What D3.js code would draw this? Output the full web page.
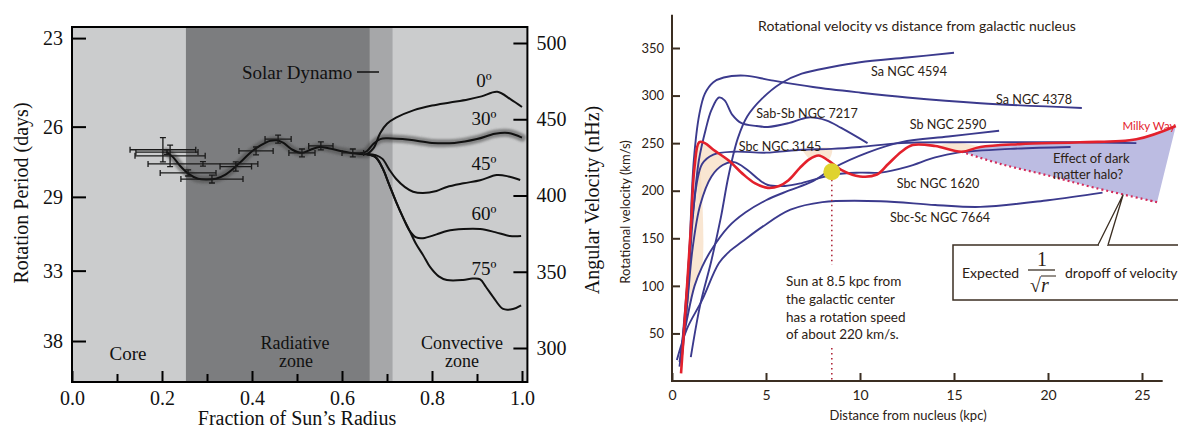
<!DOCTYPE html>
<html>
<head>
<meta charset="utf-8">
<script src="https://cdn.jsdelivr.net/npm/d3@7/dist/d3.min.js"></script>
<style>
  html, body { margin: 0; padding: 0; background: #fff; }
  svg { display: block; }
</style>
</head>
<body>
<svg id="fig" width="1178" height="430"></svg>
<script>
// ================= Solar interior rotation =================
const radiusTicks = [0, 0.2, 0.4, 0.6, 0.8, 1.0];
const radiusMinorTicks = [0.1, 0.3, 0.5, 0.7, 0.9];
const rateTicks = [300, 350, 400, 450, 500];          // nHz
const periodTicks = [23, 26, 29, 33, 38];             // days
const zoneEdges = [0, 0.253, 0.662, 0.713, 1.012];    // core | radiative | tachocline | convective

// mean rotation rate below the convection zone
const interiorRadius = [0.21, 0.225, 0.24, 0.26, 0.28, 0.30, 0.32, 0.34, 0.36, 0.38, 0.40, 0.42, 0.44, 0.455, 0.47, 0.49, 0.51, 0.53, 0.55, 0.57, 0.60, 0.63, 0.655];
const interiorRate   = [428.5, 425, 419.5, 414, 411, 410.5, 411, 413.5, 418, 423.5, 429, 433, 435.8, 436.2, 434.5, 430, 428, 430, 431.8, 431, 429, 427.5, 427];

// rotation rate in the convection zone at given latitudes
const latLabels = ["0º", "30º", "45º", "60º", "75º"];
const lat0Radius  = [0.655, 0.67, 0.685, 0.70, 0.72, 0.76, 0.80, 0.84, 0.88, 0.91, 0.945, 0.975, 1.0];
const lat0Rate    = [427, 431, 441, 447, 451, 456, 459, 461, 463, 465, 468, 463, 458];
const lat30Radius = [0.64, 0.655, 0.67, 0.685, 0.70, 0.75, 0.80, 0.85, 0.90, 0.94, 0.97, 1.0];
const lat30Rate   = [427.5, 429, 434, 437, 437.5, 436.5, 434.5, 434.5, 437, 440.5, 441, 438];
const lat45Radius = [0.655, 0.675, 0.69, 0.705, 0.72, 0.74, 0.758, 0.78, 0.81, 0.833, 0.87, 0.907, 0.944, 0.97, 0.996];
const lat45Rate   = [427, 426.5, 424, 417, 411, 405.5, 402.5, 401.6, 403, 405.6, 408, 410, 413.4, 412.5, 410.2];
const lat60Radius = [0.655, 0.675, 0.69, 0.705, 0.72, 0.735, 0.75, 0.765, 0.78, 0.81, 0.833, 0.87, 0.907, 0.94, 0.973, 0.998];
const lat60Rate   = [427, 425, 418, 407, 396, 386, 377, 372.5, 372, 374.5, 376.7, 378, 378, 376, 373.4, 373.4];
const lat75Radius = [0.655, 0.675, 0.69, 0.705, 0.72, 0.735, 0.75, 0.765, 0.78, 0.796, 0.815, 0.833, 0.869, 0.89, 0.907, 0.92, 0.936, 0.958, 0.98, 0.998];
const lat75Rate   = [427, 425, 418, 407, 396, 386, 377, 368, 361, 353, 347, 344.6, 344.6, 345.5, 345, 340, 333.4, 325.6, 325.6, 328];

// helioseismic inversion points with their uncertainties
const obsRadius    = [0.202, 0.211, 0.218, 0.291, 0.258, 0.311, 0.364, 0.409, 0.458, 0.511, 0.553, 0.624];
const obsRadiusErr = [0.073, 0.069, 0.078, 0.122, 0.062, 0.069, 0.035, 0.038, 0.029, 0.029, 0.027, 0.024];
const obsRate      = [430, 428.5, 426, 420.7, 414.8, 410.8, 419, 429.2, 437, 427.9, 432.5, 427.9];
const obsRateErr   = [8, 1.5, 7, 1.5, 2, 2.6, 3, 2.6, 2.6, 2.6, 2.6, 2.6];

// ================= Galaxy rotation curves =================
const distTicks = [0, 5, 10, 15, 20, 25];                    // kpc
const speedTicks = [50, 100, 150, 200, 250, 300, 350];       // km/s

const ngc4594Kpc   = [1.0, 1.5, 2.1, 2.6, 3.0, 3.5, 4.0, 4.8, 5.8, 6.9, 8.5, 10, 12.5, 15];
const ngc4594Speed = [25, 80, 127, 172, 215, 255, 278, 297, 313, 323, 330, 335, 340, 345];
const ngc4378Kpc   = [0.4, 0.7, 0.9, 1.16, 1.45, 1.75, 2.2, 2.75, 3.86, 5.29, 7.5, 10.05, 12.5, 16.4, 21.8];
const ngc4378Speed = [15, 70, 127, 232, 280, 302, 314, 319, 321, 316, 309, 303, 298, 292, 287];
const ngc7217Kpc   = [0.5, 0.8, 1.1, 1.43, 1.8, 2.1, 2.5, 2.8, 3.2, 3.7, 4.5, 5.1, 6.2, 7.25, 8.2, 9.0, 10.4];
const ngc7217Speed = [20, 80, 170, 232, 265, 285, 298, 295, 280, 271, 268, 267, 271, 277, 274, 266, 250];
const ngc3145Kpc   = [0.5, 0.8, 1.1, 1.6, 2.2, 3.3, 5.0, 6.9, 8.5, 10, 12.2, 15, 18, 21, 24.7];
const ngc3145Speed = [30, 100, 175, 228, 238, 241, 240, 243, 244, 246, 250, 251, 251, 251, 250];
const ngc2590Kpc   = [0.4, 0.8, 1.2, 1.6, 2.1, 3.0, 3.9, 5.0, 6.2, 7.5, 8.6, 10.4, 12.2, 14.7, 17.4];
const ngc2590Speed = [20, 65, 100, 120, 138, 162, 177, 190, 200, 210, 224, 240, 251, 257, 263];
const ngc1620Kpc   = [0.5, 0.8, 1.1, 1.5, 2.1, 2.7, 3.3, 4.0, 4.6, 5.1, 6.0, 6.9, 8.6, 10, 11.1, 12.5, 14, 15.2, 18, 21.2];
const ngc1620Speed = [30, 80, 140, 185, 215, 227, 230, 222, 212, 206, 205, 208, 217, 219, 219, 225, 235, 240, 244, 246];
const ngc7664Kpc   = [0.26, 0.8, 1.6, 2.5, 3.1, 3.7, 4.8, 6.3, 8, 11.1, 14, 16.4, 20, 22.9];
const ngc7664Speed = [22, 55, 85, 124, 137, 146, 162, 180, 188, 189, 185, 183, 190, 198];
const milkyWayKpc   = [0.48, 0.75, 1.0, 1.2, 1.45, 1.75, 2.2, 3.0, 3.8, 4.4, 5.1, 5.7, 6.2, 6.8, 7.3, 7.8, 8.3, 9.0, 10.0, 10.9, 11.5, 12.2, 12.8, 14.0, 15.4, 16.4, 18.5, 21.7, 24.7, 26.8];
const milkyWaySpeed = [8, 85, 160, 225, 251, 250, 243, 232, 217, 208, 203, 205, 211, 224, 233, 237, 232, 222, 215, 217, 228, 241, 248, 247, 241, 246, 249, 251, 254, 268];

// expected Keplerian fall-off beyond the visible disk
const dropoffKpc   = [15.4, 17.5, 20, 22.5, 25.8];
const dropoffSpeed = [241, 228, 216, 203, 188];

const sunKpc = 8.5, sunSpeed = 220;

// =========================================================
const svg = d3.select("#fig");
const serif = "'Liberation Serif', 'Times New Roman', serif";
const sans = "Lato, 'Open Sans', sans-serif";
const zip = (a, b) => a.map((v, i) => [v, b[i]]);

const defs = svg.append("defs");
defs.append("filter").attr("id", "soft").attr("x", "-10%").attr("y", "-50%").attr("width", "120%").attr("height", "200%")
  .append("feGaussianBlur").attr("stdDeviation", 1.3);

// ---------- left panel ----------
const L = svg.append("g");
const rx = d3.scaleLinear().domain([0, 1]).range([72, 522]);
const ny = d3.scaleLinear().domain([300, 500]).range([348, 43]);
const frameTop = 27, frameBottom = 382;
const toNhz = p => 1e9 / (p * 86400);

const zoneFill = ["#cbcccd", "#7c7d7f", "#a6a7a9", "#cbcccd"];
L.selectAll("rect.zone").data(d3.pairs(zoneEdges)).join("rect")
  .attr("class", "zone")
  .attr("x", d => rx(d[0])).attr("width", d => rx(d[1]) - rx(d[0]))
  .attr("y", frameTop).attr("height", frameBottom - frameTop)
  .attr("fill", (d, i) => zoneFill[i]);

const sunLine = d3.line().x(d => rx(d[0])).y(d => ny(d[1])).curve(d3.curveCatmullRom.alpha(0.5));
const interior = zip(interiorRadius, interiorRate);
const lat30 = zip(lat30Radius, lat30Rate);

// uncertainty halo around the best-determined profile
L.append("g").attr("filter", "url(#soft)").selectAll("path").data([interior, lat30]).join("path")
  .attr("d", sunLine).attr("fill", "none").attr("stroke", "#4a4a4a").attr("stroke-opacity", 0.55)
  .attr("stroke-width", 8).attr("stroke-linecap", "round");

const latCurves = [zip(lat0Radius, lat0Rate), lat30, zip(lat45Radius, lat45Rate), zip(lat60Radius, lat60Rate), zip(lat75Radius, lat75Rate)];
L.selectAll("path.lat").data([interior, ...latCurves]).join("path")
  .attr("class", "lat").attr("d", sunLine).attr("fill", "none")
  .attr("stroke", "#111").attr("stroke-width", 2);

// error bars
const obs = obsRadius.map((r, i) => ({ r, re: obsRadiusErr[i], v: obsRate[i], ve: obsRateErr[i] }));
const eb = L.append("g").attr("stroke", "#1a1a1a").attr("stroke-width", 1.3).attr("fill", "none");
const cap = 3;
obs.forEach(o => {
  const x0 = rx(o.r - o.re), x1 = rx(o.r + o.re), xc = rx(o.r);
  const yc = ny(o.v), y0 = ny(o.v + o.ve), y1 = ny(o.v - o.ve);
  eb.append("path").attr("d",
    `M${x0},${yc}H${x1}M${x0},${yc - cap}V${yc + cap}M${x1},${yc - cap}V${yc + cap}` +
    `M${xc},${y0}V${y1}M${xc - cap},${y0}H${xc + cap}M${xc - cap},${y1}H${xc + cap}`);
});

// axes
const axStyle = g => {
  g.select(".domain").remove();
  g.selectAll(".tick line").attr("stroke", "#000").attr("stroke-width", 2);
  g.selectAll(".tick text").attr("fill", "#111").style("font-family", serif).style("font-size", "20px");
};
L.append("g").attr("transform", `translate(${rx(0)},0)`)
  .call(d3.axisLeft(ny).tickValues(periodTicks.map(toNhz)).tickFormat((d, i) => periodTicks[i]).tickSize(-14).tickPadding(9))
  .call(axStyle);
L.append("g").attr("transform", `translate(${rx(1.012)},0)`)
  .call(d3.axisRight(ny).tickValues(rateTicks).tickSize(-14).tickPadding(9))
  .call(axStyle);
L.append("g").attr("transform", `translate(0,${frameBottom})`)
  .call(d3.axisBottom(rx).tickValues(radiusTicks).tickFormat(d3.format(".1f")).tickSize(-11).tickPadding(9))
  .call(axStyle);
L.append("g").attr("transform", `translate(0,${frameBottom})`)
  .call(d3.axisBottom(rx).tickValues(radiusMinorTicks).tickFormat("").tickSize(-8))
  .call(axStyle);

L.append("rect").attr("x", rx(0)).attr("y", frameTop).attr("width", rx(1.012) - rx(0)).attr("height", frameBottom - frameTop)
  .attr("fill", "none").attr("stroke", "#000").attr("stroke-width", 2);

const ltext = (x, y, s, anchor = "middle", size = 19) =>
  L.append("text").attr("x", x).attr("y", y).attr("text-anchor", anchor)
    .style("font-family", serif).style("font-size", size + "px").attr("fill", "#111").text(s);

ltext(297, 425, "Fraction of Sun\u2019s Radius", "middle", 20);
L.append("text").attr("transform", "translate(28,193) rotate(-90)").attr("text-anchor", "middle")
  .style("font-family", serif).style("font-size", "20px").attr("fill", "#111").text("Rotation Period (days)");
L.append("text").attr("transform", "translate(599,200) rotate(-90)").attr("text-anchor", "middle")
  .style("font-family", serif).style("font-size", "20px").attr("fill", "#111").text("Angular Velocity (nHz)");

ltext(128, 360, "Core");
ltext(295, 349, "Radiative", "middle", 18);
ltext(296, 367, "zone", "middle", 18);
ltext(462, 349, "Convective", "middle", 18);
ltext(462, 367, "zone", "middle", 18);
ltext(242, 79, "Solar Dynamo", "start");
L.append("line").attr("x1", 357).attr("x2", 379).attr("y1", 72).attr("y2", 72).attr("stroke", "#111").attr("stroke-width", 1.5);

const latLabelY = [87, 125, 170, 220, 275];
latLabels.forEach((s, i) => ltext(484, latLabelY[i], s));

// ---------- right panel ----------
const R = svg.append("g");
const gx = d3.scaleLinear().domain([0, 25]).range([672, 1142]);
const gy = d3.scaleLinear().domain([0, 350]).range([381, 48]);
const ink = "#3b2e22";
const txt = "#2c2114";
const blue = "#3b3a8d";
const red = "#e3212c";

const galLine = d3.line().x(d => gx(d[0])).y(d => gy(d[1])).curve(d3.curveCatmullRom.alpha(0.5));
const poly = d3.line().x(d => gx(d[0])).y(d => gy(d[1]));

const milkyWay = zip(milkyWayKpc, milkyWaySpeed);
const dropoff = zip(dropoffKpc, dropoffSpeed);
const g3145 = zip(ngc3145Kpc, ngc3145Speed);
const g1620 = zip(ngc1620Kpc, ngc1620Speed);
const g7217 = zip(ngc7217Kpc, ngc7217Speed);
const g2590 = zip(ngc2590Kpc, ngc2590Speed);
const within = (pts, a, b) => pts.filter(d => d[0] >= a && d[0] <= b);

// region between the observed curve and the Keplerian expectation
const halo = [...within(milkyWay, 15.4, 30), ...dropoff.slice().reverse()];
R.append("path").attr("d", poly(halo) + "Z").attr("fill", "#bcbce2");

// light shading of the measurement spread
const peach = [
  [...within(g7217, 0.8, 1.43), ...within(g2590, 0.8, 1.6).reverse()],
  [...within(milkyWay, 1.2, 3.0), ...within(g1620, 1.5, 2.7).reverse()],
  [...within(milkyWay, 7.3, 8.3), ...within(g3145, 6.9, 8.5).reverse()],
  [...within(milkyWay, 14.0, 16.4), ...within(g3145, 15, 15).reverse()]
];
R.selectAll("path.peach").data(peach).join("path").attr("class", "peach")
  .attr("d", d => galLine(d) + "Z").attr("fill", "#f6dcbf").attr("opacity", 0.7);

const galaxies = [
  zip(ngc4594Kpc, ngc4594Speed), zip(ngc4378Kpc, ngc4378Speed), g7217, g3145, g2590, g1620, zip(ngc7664Kpc, ngc7664Speed)
];
R.selectAll("path.gal").data(galaxies).join("path").attr("class", "gal")
  .attr("d", galLine).attr("fill", "none").attr("stroke", blue).attr("stroke-width", 1.9);

R.append("path").attr("d", galLine(dropoff)).attr("fill", "none").attr("stroke", "#d42a5a")
  .attr("stroke-width", 2.2).attr("stroke-dasharray", "2,3");

R.append("path").attr("d", galLine(milkyWay)).attr("fill", "none").attr("stroke", red).attr("stroke-width", 2.6);

// Sun's position
const sunX = gx(sunKpc);
R.append("path").attr("d", `M${sunX},${gy(sunSpeed) + 8}V265M${sunX},348V${gy(0)}`)
  .attr("stroke", "#b02a3c").attr("stroke-width", 1.6).attr("stroke-dasharray", "1.5,3.5").attr("fill", "none");
R.append("circle").attr("cx", sunX).attr("cy", gy(sunSpeed)).attr("r", 8.5).attr("fill", "#dfd32e");

// axes
R.append("g").attr("transform", `translate(${gx(0)},0)`)
  .call(d3.axisLeft(gy).tickValues(speedTicks).tickSize(-8).tickPadding(8).tickSizeOuter(0))
  .call(g => {
    g.select(".domain").remove();
    g.selectAll(".tick line").attr("stroke", ink).attr("stroke-width", 2);
    g.selectAll(".tick text").attr("fill", txt).style("font-family", sans).style("font-size", "13px");
  });
R.append("g").attr("transform", `translate(0,${gy(0)})`)
  .call(d3.axisBottom(gx).tickValues(distTicks).tickSize(-8).tickPadding(9).tickSizeOuter(0))
  .call(g => {
    g.select(".domain").remove();
    g.selectAll(".tick line").attr("stroke", ink).attr("stroke-width", 2);
    g.selectAll(".tick text").attr("fill", txt).style("font-family", sans).style("font-size", "14px");
  });
R.append("path").attr("d", `M${gx(0)},${gy(385)}V${gy(0)}H${gx(26.1)}`)
  .attr("fill", "none").attr("stroke", ink).attr("stroke-width", 2);

const rtext = (x, y, s, anchor = "middle", size = 13, fill = txt) =>
  R.append("text").attr("x", x).attr("y", y).attr("text-anchor", anchor)
    .style("font-family", sans).style("font-size", size + "px").attr("fill", fill).text(s);

rtext(917, 31, "Rotational velocity vs distance from galactic nucleus", "middle", 14);
rtext(908, 420, "Distance from nucleus (kpc)", "middle", 13);
R.append("text").attr("transform", "translate(630,212) rotate(-90)").attr("text-anchor", "middle")
  .style("font-family", sans).style("font-size", "13px").attr("fill", txt).text("Rotational velocity (km/s)");

const galaxyLabels = [
  ["Sa NGC 4594", 909, 76], ["Sa NGC 4378", 1034, 104], ["Sab-Sb NGC 7217", 807, 118],
  ["Sb NGC 2590", 948, 129], ["Sbc NGC 3145", 780, 151], ["Sbc NGC 1620", 938, 188], ["Sbc-Sc NGC 7664", 940, 222]
];
galaxyLabels.forEach(([s, x, y]) => rtext(x, y, s, "middle", 12.6));
rtext(1149, 130, "Milky Way", "middle", 11.5, red);
rtext(1053, 163, "Effect of dark", "start", 13);
rtext(1053, 179, "matter halo?", "start", 13);

["Sun at 8.5 kpc from", "the galactic center", "has a rotation speed", "of about 220 km/s."]
  .forEach((s, i) => rtext(786, 286 + i * 17.8, s, "start", 13.5));

// call-out for the expected fall-off
const tipX = gx(24.0), tipY = gy(196);
R.append("rect").attr("x", 953).attr("y", 245).attr("width", 240).attr("height", 55)
  .attr("fill", "#fff").attr("stroke", ink).attr("stroke-width", 1.5);
R.append("path").attr("d", `M1098,245L${tipX},${tipY}L1108,245`).attr("fill", "#fff").attr("stroke", ink).attr("stroke-width", 1.3);
R.append("line").attr("x1", 1099).attr("x2", 1107).attr("y1", 245).attr("y2", 245).attr("stroke", "#fff").attr("stroke-width", 2.5);
rtext(962, 278, "Expected", "start", 14);
R.append("text").attr("x", 1042).attr("y", 266).attr("text-anchor", "middle")
  .style("font-family", serif).style("font-size", "20px").attr("fill", txt).text("1");
R.append("line").attr("x1", 1028).attr("x2", 1055).attr("y1", 270).attr("y2", 270).attr("stroke", txt).attr("stroke-width", 1.2);
R.append("text").attr("x", 1030).attr("y", 292).style("font-family", serif).style("font-size", "20px").attr("fill", txt)
  .html("\u221A<tspan font-style='italic'>r</tspan>");
R.append("line").attr("x1", 1041).attr("x2", 1056).attr("y1", 276).attr("y2", 276).attr("stroke", txt).attr("stroke-width", 1);
rtext(1065, 278, "dropoff of velocity", "start", 14);
</script>
</body>
</html>
